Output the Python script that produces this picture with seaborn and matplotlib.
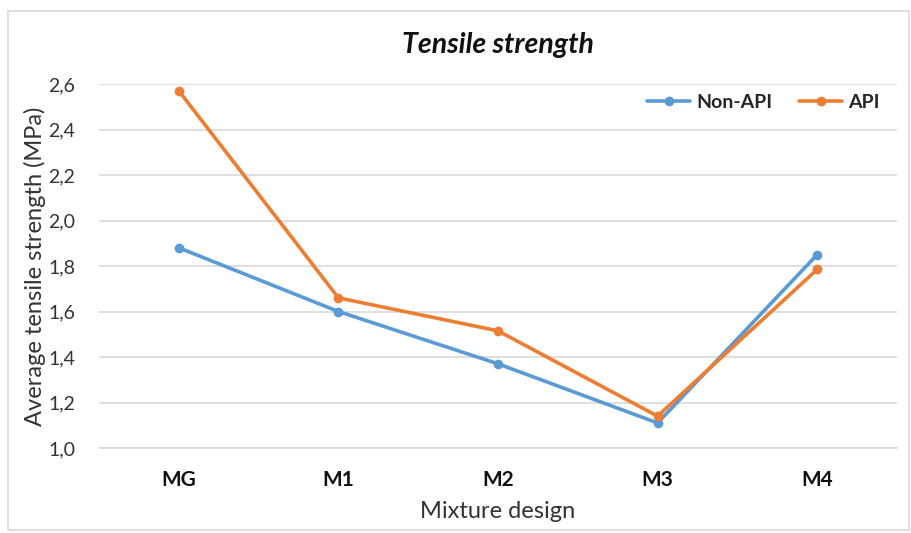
import matplotlib
matplotlib.use("Agg")
import matplotlib.pyplot as plt
import seaborn as sns
import pandas as pd
from matplotlib.patches import Rectangle
from matplotlib.ticker import FuncFormatter

categories = ["MG", "M1", "M2", "M3", "M4"]
non_api = [1.88, 1.60, 1.37, 1.11, 1.85]
api = [2.57, 1.66, 1.515, 1.14, 1.785]
series_names = ["Non-API", "API"]
colors = ["#5B9BD5", "#ED7D31"]

rows = []
for name, vals in zip(series_names, [non_api, api]):
    for i, (c, v) in enumerate(zip(categories, vals)):
        rows.append({"idx": i, "Mixture design": c, "value": v, "series": name})
df = pd.DataFrame(rows)

sns.set_theme(style="white")
plt.rcParams["font.family"] = ["Lato", "DejaVu Sans"]

fig = plt.figure(figsize=(9.11, 5.33), dpi=100)
ax = fig.add_axes([99 / 911, 1 - 448 / 533, (897 - 99) / 911, (448 - 84) / 533])

sns.lineplot(data=df, x="idx", y="value", hue="series", palette=colors,
             hue_order=series_names, marker="o", markersize=7, markeredgewidth=0,
             linewidth=2.6, sort=False, ax=ax)

ax.set_xlim(-0.5, len(categories) - 0.5)
ax.set_ylim(1.0, 2.6)
ax.set_yticks([1.0, 1.2, 1.4, 1.6, 1.8, 2.0, 2.2, 2.4, 2.6])
ax.yaxis.set_major_formatter(FuncFormatter(lambda v, p: f"{v:.1f}".replace(".", ",")))
ax.set_xticks(range(len(categories)))
ax.set_xticklabels(categories, fontweight="bold", fontsize=15)
for t in ax.get_yticklabels():
    t.set_fontsize(14)
    t.set_color("#333333")
ax.tick_params(axis="x", length=0, pad=16, colors="#111111")
ax.tick_params(axis="y", length=0, pad=17)
ax.grid(axis="y", color="#d9d9d9", linewidth=1.2)
ax.set_axisbelow(True)
for s in ["top", "right", "left"]:
    ax.spines[s].set_visible(False)
ax.spines["bottom"].set_color("#d9d9d9")
ax.spines["bottom"].set_linewidth(1.2)

ax.set_xlabel("Mixture design", fontsize=17, color="#333333", labelpad=8)
ax.set_ylabel("Average tensile strength (MPa)", fontsize=17, color="#333333", labelpad=2)
ax.set_title("Tensile strength", fontsize=20.5, fontweight="bold", fontstyle="italic",
             color="#111111", pad=22)

leg = ax.legend(loc="upper right", bbox_to_anchor=(1.0, 1.02), ncol=2, frameon=False,
                fontsize=14, handlelength=2.2, columnspacing=1.4, handletextpad=0.3)
for t in leg.get_texts():
    t.set_fontweight("bold")

fig.patches.append(Rectangle((8 / 911, 3 / 533), 1 - 10 / 911, 1 - 14 / 533,
                             transform=fig.transFigure, fill=False,
                             edgecolor="#d9d9d9", linewidth=1.2))

fig.savefig("out.png", dpi=100)
